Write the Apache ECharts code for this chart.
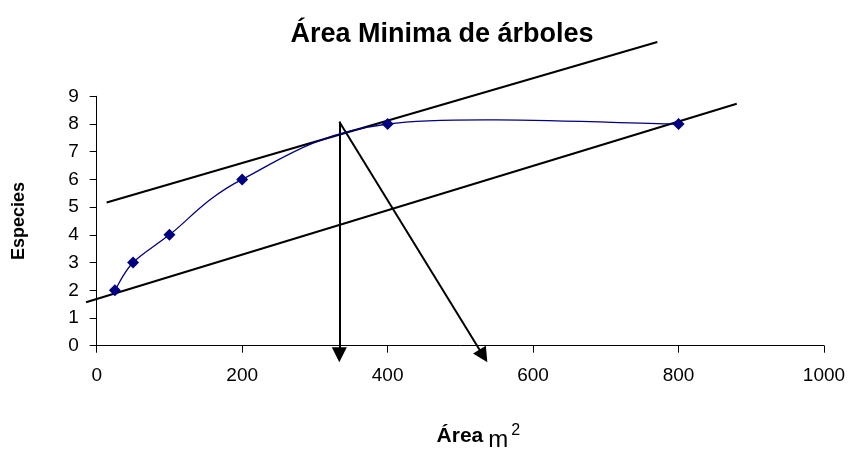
<!DOCTYPE html>
<html>
<head>
<meta charset="utf-8">
<script src="https://cdn.jsdelivr.net/npm/echarts@6/dist/echarts.min.js"></script>
<style>html,body{margin:0;padding:0;background:#fff}#c{width:851px;height:452px}</style>
</head>
<body>
<div id="c"></div>
<script>
// Data
var areaX = [25, 50, 100, 200, 400, 800];
var especiesY = [2, 3, 4, 6, 8, 8];
var upperLine = [[13.7, 5.17], [770.8, 10.96]];
var lowerLine = [[-14.7, 1.57], [880, 8.73]];
var arrowDown = [[333.6, 8.08], [333.6, -0.33]];
var arrowDiag = [[333.6, 8.08], [531.7, -0.37]];
var xTicks = [0, 200, 400, 600, 800, 1000];
var yTicks = [0, 1, 2, 3, 4, 5, 6, 7, 8, 9];

var font = 'Liberation Sans, Arial, sans-serif';
var points = areaX.map(function (x, i) { return [x, especiesY[i]]; });

// Excel-like smoothed segment (Catmull-Rom, drawn through the axes' coordinate conversion)
function renderSegment(params, api) {
  var i = params.dataIndex;
  if (i >= points.length - 1) return null;
  var p = points.map(function (d) { return api.coord(d); });
  var p0 = p[Math.max(i - 1, 0)], p1 = p[i], p2 = p[i + 1], p3 = p[Math.min(i + 2, p.length - 1)];
  var c1 = [p1[0] + (p2[0] - p0[0]) / 6, p1[1] + (p2[1] - p0[1]) / 6];
  var c2 = [p2[0] - (p3[0] - p1[0]) / 6, p2[1] - (p3[1] - p1[1]) / 6];
  return {
    type: 'bezierCurve',
    shape: {x1: p1[0], y1: p1[1], cpx1: c1[0], cpy1: c1[1], cpx2: c2[0], cpy2: c2[1], x2: p2[0], y2: p2[1]},
    style: {stroke: '#000080', lineWidth: 1.3, fill: null}
  };
}

var chart = echarts.init(document.getElementById('c'));
chart.setOption({
  animation: false,
  backgroundColor: '#fff',
  title: {
    text: 'Área Minima de árboles',
    left: 437, top: 16, textAlign: 'center',
    textStyle: {fontFamily: font, fontWeight: 'bold', fontSize: 27, color: '#000'}
  },
  grid: {left: 96.7, right: 27, top: 96.3, bottom: 106.3, containLabel: false, outerBoundsMode: 'none'},
  xAxis: {
    type: 'value', min: xTicks[0], max: xTicks[xTicks.length - 1], interval: 200,
    axisLine: {lineStyle: {color: '#000', width: 1}},
    axisTick: {show: true, length: 7, lineStyle: {color: '#000'}},
    splitLine: {show: false},
    axisLabel: {color: '#000', fontFamily: font, fontSize: 19, margin: 21,
      formatter: function (v) { return String(v); }},
    name: '{b|Área}{m|m}{s|2}',
    nameLocation: 'middle', nameGap: 74,
    nameTextStyle: {
      padding: [0, 0, 0, 36],
      rich: {
        b: {fontFamily: font, fontWeight: 'bold', fontSize: 21, color: '#000', padding: [0, 5, 0, 0]},
        m: {fontFamily: font, fontSize: 24, color: '#000', padding: [9, 3, 0, 0]},
        s: {fontFamily: font, fontSize: 16, color: '#000', padding: [0, 0, 12, 0]}
      }
    }
  },
  yAxis: {
    type: 'value', min: yTicks[0], max: yTicks[yTicks.length - 1], interval: 1,
    axisLine: {show: true, lineStyle: {color: '#000', width: 1}},
    axisTick: {show: true, length: 7, lineStyle: {color: '#000'}},
    splitLine: {show: false},
    axisLabel: {color: '#000', fontFamily: font, fontSize: 19, margin: 18},
    name: 'Especies', nameLocation: 'middle', nameGap: 69, nameRotate: 90,
    nameTextStyle: {fontFamily: font, fontWeight: 'bold', fontSize: 18, color: '#000'}
  },
  series: [
    {
      type: 'custom', renderItem: renderSegment, data: points, clip: false, z: 3,
      encode: {x: 0, y: 1}
    },
    {
      type: 'scatter', data: points,
      symbol: 'diamond', symbolSize: 12,
      itemStyle: {color: '#000080', opacity: 1},
      z: 4
    },
    {
      type: 'lines', coordinateSystem: 'cartesian2d', clip: false,
      symbol: 'none',
      lineStyle: {color: '#000', width: 2, opacity: 1},
      data: [{coords: upperLine}, {coords: lowerLine}],
      z: 2
    },
    {
      type: 'lines', coordinateSystem: 'cartesian2d', clip: false,
      symbol: ['none', 'triangle'], symbolSize: [13, 15],
      lineStyle: {color: '#000', width: 2, opacity: 1},
      itemStyle: {color: '#000'},
      data: [{coords: arrowDown}, {coords: arrowDiag}],
      z: 2
    }
  ]
});
</script>
</body>
</html>
